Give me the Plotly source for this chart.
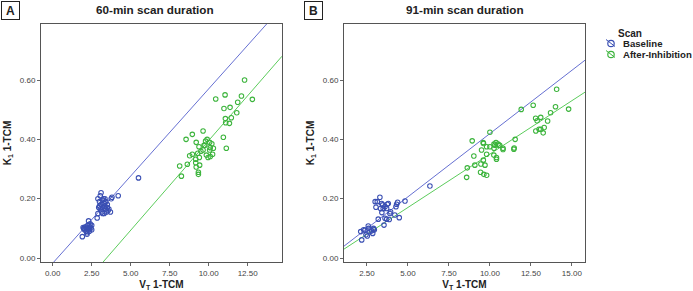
import plotly.graph_objects as go

# ---------------- data ----------------
a_base_vt = [1.9, 2.0, 2.05, 2.1, 2.15, 2.2, 2.2, 2.25, 2.3, 2.3, 2.35, 2.4, 2.45, 2.5, 2.5, 2.4, 2.2, 2.0, 2.35, 1.95,
             2.85, 2.9, 2.9, 2.95, 3.0, 3.05, 3.05, 3.1, 3.1, 3.15, 3.2, 3.2, 3.25, 3.3, 3.3, 3.35, 3.4, 3.4, 3.45,
             3.5, 3.5, 3.55, 3.0, 3.6, 3.7, 3.75, 3.8, 4.2, 5.5, 3.2, 3.35]
a_base_k1 = [0.072, 0.10, 0.095, 0.105, 0.09, 0.085, 0.10, 0.11, 0.095, 0.125, 0.10, 0.105, 0.10, 0.11, 0.095, 0.115, 0.08, 0.098, 0.09, 0.103,
             0.135, 0.15, 0.20, 0.17, 0.19, 0.21, 0.165, 0.22, 0.18, 0.155, 0.195, 0.17, 0.20, 0.185, 0.15, 0.175, 0.165, 0.19, 0.155,
             0.17, 0.18, 0.16, 0.175, 0.165, 0.155, 0.20, 0.205, 0.21, 0.27, 0.15, 0.20]

a_inh_vt = [12.3, 10.45, 11.05, 12.1, 12.8, 11.86, 10.98, 11.37, 11.8, 11.07, 11.45, 11.09, 11.33, 9.64, 8.95, 8.55,
            10.94, 9.2, 9.8, 10.06, 9.38, 9.76, 10.1, 11.13, 10.06, 9.64, 9.3, 9.85, 9.4, 9.96, 10.1, 8.78, 9.17,
            8.14, 8.63, 9.17, 9.42, 9.2, 8.25, 9.34, 9.34, 8.95, 9.7, 9.9, 10.2, 10.25, 9.5, 10.3]
a_inh_k1 = [0.60, 0.536, 0.55, 0.546, 0.535, 0.525, 0.504, 0.508, 0.49, 0.47, 0.473, 0.456, 0.454, 0.428, 0.417, 0.40,
            0.407, 0.39, 0.394, 0.39, 0.375, 0.38, 0.372, 0.37, 0.364, 0.364, 0.353, 0.347, 0.339, 0.339, 0.342, 0.345, 0.333,
            0.31, 0.316, 0.321, 0.313, 0.307, 0.276, 0.289, 0.282, 0.35, 0.38, 0.40, 0.385, 0.35, 0.36, 0.37]

b_base_vt = [2.12, 2.18, 2.38, 2.44, 2.58, 2.68, 2.79, 2.85, 2.89, 2.52, 3.19, 3.05, 3.13, 3.29, 3.4, 3.33, 3.46, 3.49,
             3.6, 3.7, 3.74, 3.41, 3.54, 3.6, 3.7, 3.86, 3.9, 3.94, 3.8, 4.27, 4.31, 4.37, 4.2, 4.47, 4.82, 6.34,
             3.0, 2.3, 2.6, 2.9, 2.95]
b_base_k1 = [0.089, 0.061, 0.094, 0.078, 0.108, 0.089, 0.092, 0.083, 0.097, 0.074, 0.131, 0.171, 0.19, 0.205, 0.184, 0.167, 0.179, 0.167,
             0.173, 0.167, 0.181, 0.153, 0.111, 0.134, 0.131, 0.13, 0.15, 0.156, 0.184, 0.173, 0.181, 0.188, 0.145, 0.136, 0.192, 0.243,
             0.19, 0.095, 0.10, 0.10, 0.095]

b_inh_vt = [14.07, 12.64, 14.0, 14.8, 11.91, 13.7, 12.79, 13.1, 12.88, 13.52, 13.31, 12.8, 13.0, 13.1, 13.25, 10.0,
            8.92, 9.61, 10.0, 10.37, 10.5, 10.25, 10.55, 11.54, 11.48, 10.8, 9.8, 10.25, 9.59, 10.3, 9.49, 9.8,
            10.24, 10.4, 10.4, 9.02, 9.45, 9.7, 9.6, 9.08, 8.62, 9.43, 9.63, 9.8, 8.58, 10.8, 11.46, 10.6]
b_inh_k1 = [0.569, 0.515, 0.51, 0.502, 0.501, 0.49, 0.471, 0.474, 0.463, 0.462, 0.44, 0.428, 0.434, 0.434, 0.422, 0.424,
            0.395, 0.386, 0.375, 0.389, 0.384, 0.384, 0.38, 0.40, 0.371, 0.37, 0.375, 0.37, 0.389, 0.38, 0.364, 0.35,
            0.347, 0.339, 0.333, 0.344, 0.317, 0.313, 0.33, 0.313, 0.304, 0.289, 0.282, 0.279, 0.272, 0.366, 0.367, 0.38]

# fit lines: (intercept, slope)
fit_a_base = (-0.0176, 0.0588)
fit_a_inh = (-0.209, 0.0605)
fit_b_base = (-0.0069, 0.04265)
fit_b_inh = (-0.0096, 0.036)

x_ticks_a = [0.0, 2.5, 5.0, 7.5, 10.0, 12.5]
x_ticks_b = [2.5, 5.0, 7.5, 10.0, 12.5, 15.0]
y_ticks = [0.0, 0.2, 0.4, 0.6]

series_names = ["Baseline", "After-Inhibition"]
panel_titles = ["60-min scan duration", "91-min scan duration"]
panel_letters = ["A", "B"]
legend_title = "Scan"

# ---------------- style ----------------
BLUE = "#3a4fb3"
GREEN = "#3cb43c"
BLUE_L = "#6670d2"
GREEN_L = "#5ccc5c"
FONT = "Arial, Liberation Sans, sans-serif"

xr_a = [-0.75, 14.7]
xr_b = [1.1, 15.8]
yr = [-0.0135, 0.789]

fig = go.Figure()

def add_panel(xv, yv, color, xa, ya, name):
    fig.add_trace(go.Scatter(x=xv, y=yv, mode="markers", xaxis=xa, yaxis=ya, showlegend=False,
                             name=name,
                             marker=dict(symbol="circle-open", size=4.5, color=color, line=dict(width=1.1, color=color))))

def add_fit(fit, xr, color, xa, ya):
    b0, b1 = fit
    xs = [xr[0], xr[1]]
    ys = [b0 + b1 * v for v in xs]
    fig.add_trace(go.Scatter(x=xs, y=ys, mode="lines", xaxis=xa, yaxis=ya, showlegend=False,
                             line=dict(color=color, width=1), hoverinfo="skip"))

add_fit(fit_a_base, xr_a, BLUE_L, "x", "y")
add_fit(fit_a_inh, xr_a, GREEN_L, "x", "y")
add_fit(fit_b_base, xr_b, BLUE_L, "x2", "y2")
add_fit(fit_b_inh, xr_b, GREEN_L, "x2", "y2")
add_panel(a_base_vt, a_base_k1, BLUE, "x", "y", series_names[0])
add_panel(a_inh_vt, a_inh_k1, GREEN, "x", "y", series_names[1])
add_panel(b_base_vt, b_base_k1, BLUE, "x2", "y2", series_names[0])
add_panel(b_inh_vt, b_inh_k1, GREEN, "x2", "y2", series_names[1])

W, H = 693, 291
def px(v): return v / W
def py(v): return (H - v) / H

tickfont = dict(family=FONT, size=8, color="#444")
titlefont = dict(family=FONT, size=10, color="#222")
common_ax = dict(showgrid=False, zeroline=False, showline=True, mirror=True, linecolor="#555", linewidth=1,
                 ticks="outside", ticklen=3, tickcolor="#666", tickfont=tickfont, tickformat=".2f")

fig.update_layout(
    width=W, height=H,
    margin=dict(l=0, r=0, t=0, b=0),
    paper_bgcolor="white", plot_bgcolor="white",
    font=dict(family=FONT),
    showlegend=False,
    xaxis=dict(domain=[px(41), px(282)], range=xr_a, tickvals=x_ticks_a, anchor="y",
               title=dict(text="<b>V<sub>T</sub> 1-TCM</b>", font=titlefont, standoff=5), **common_ax),
    yaxis=dict(domain=[py(262), py(24)], range=yr, tickvals=y_ticks, anchor="x",
               title=dict(text="<b>K<sub>1</sub> 1-TCM</b>", font=titlefont, standoff=6), **common_ax),
    xaxis2=dict(domain=[px(344), px(585)], range=xr_b, tickvals=x_ticks_b, anchor="y2",
                title=dict(text="<b>V<sub>T</sub> 1-TCM</b>", font=titlefont, standoff=5), **common_ax),
    yaxis2=dict(domain=[py(262), py(24)], range=yr, tickvals=y_ticks, anchor="x2",
                title=dict(text="<b>K<sub>1</sub> 1-TCM</b>", font=titlefont, standoff=6), **common_ax),
)

annots = []
shapes = []
for title, cx in zip(panel_titles, [155, 465]):
    annots.append(dict(text="<b>" + title + "</b>", x=px(cx), y=py(9), xref="paper", yref="paper",
                       xanchor="center", yanchor="middle", showarrow=False,
                       font=dict(family=FONT, size=11.7, color="#222")))
for letter, lx in zip(panel_letters, [1, 304]):
    annots.append(dict(text="<b>" + letter + "</b>", x=px(lx), y=py(1), xref="paper", yref="paper",
                       xanchor="left", yanchor="top", showarrow=False, width=15, height=15,
                       bordercolor="#222", borderwidth=1, borderpad=1,
                       font=dict(family=FONT, size=12, color="#222")))

# manual legend
annots.append(dict(text="<b>" + legend_title + "</b>", x=px(616), y=py(33), xref="paper", yref="paper",
                   xanchor="left", yanchor="middle", showarrow=False,
                   font=dict(family=FONT, size=10, color="#222")))
for i, (nm, c) in enumerate(zip(series_names, [BLUE, GREEN])):
    cy = 43.5 + i * 11
    cx = 611
    r = 3.2
    shapes.append(dict(type="circle", xref="paper", yref="paper",
                       x0=px(cx - r), x1=px(cx + r), y0=py(cy + r), y1=py(cy - r),
                       line=dict(color=c, width=1.2)))
    shapes.append(dict(type="line", xref="paper", yref="paper",
                       x0=px(cx - 5), x1=px(cx + 4), y0=py(cy - 4), y1=py(cy + 3),
                       line=dict(color=c, width=1)))
    annots.append(dict(text="<b>" + nm + "</b>", x=px(621), y=py(cy), xref="paper", yref="paper",
                       xanchor="left", yanchor="middle", showarrow=False,
                       font=dict(family=FONT, size=9.6, color="#222")))

fig.update_layout(annotations=annots, shapes=shapes)

fig.write_html("out.html", config={"displayModeBar": False},
               post_script="document.body.style.margin='0';document.body.style.overflow='hidden';")
